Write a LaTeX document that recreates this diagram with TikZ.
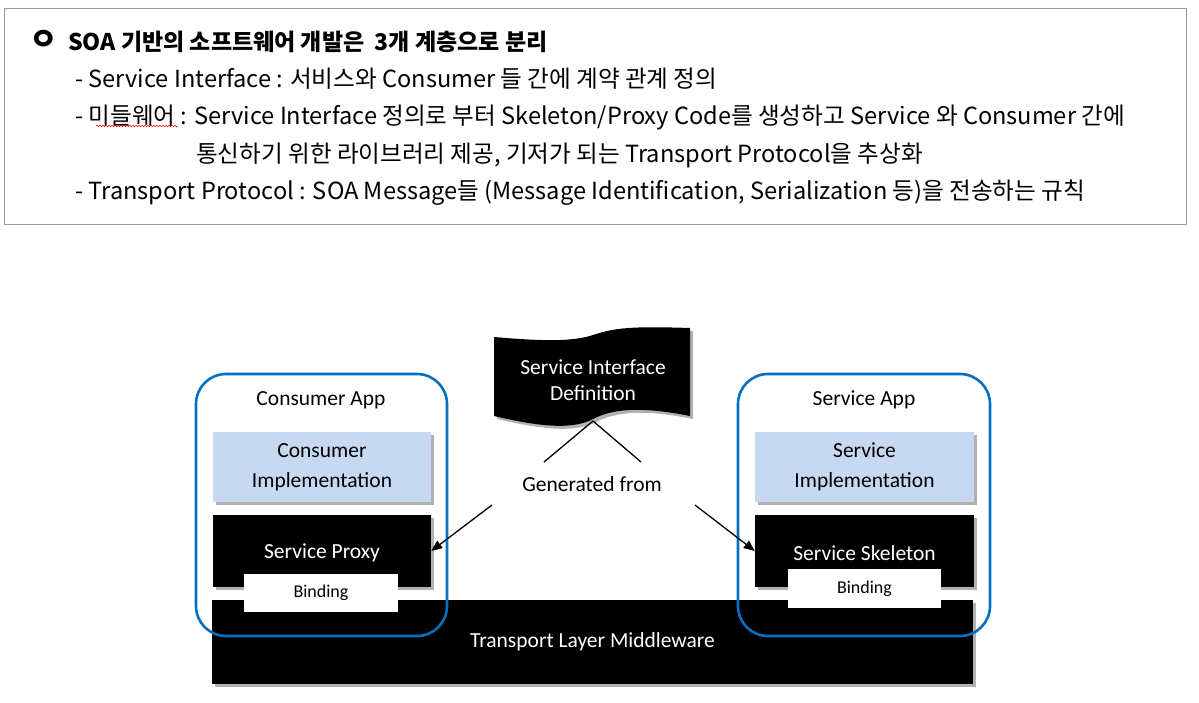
\documentclass[tikz,border=0pt]{standalone}
\usepackage{fontspec}
\setmainfont{Noto Sans CJK KR}
\newfontfamily\lab{Carlito}
\usetikzlibrary{shadows,arrows.meta,decorations.pathmorphing}
\definecolor{appblue}{HTML}{0070C0}
\definecolor{implblue}{HTML}{C6D9F1}
\begin{document}
\begin{tikzpicture}[x=1pt,y=-1pt,
  txt/.style={anchor=west, inner sep=0pt, font=\fontsize{23.6}{26}\selectfont},
  shad/.style={drop shadow={shadow xshift=3pt,shadow yshift=-3pt,fill=black,opacity=0.3}},
  blackbox/.style={fill=black, inner sep=0pt, shad},
  whitetext/.style={text=white, inner sep=0pt, align=center, font=\lab\fontsize{21.5}{26}\selectfont},
  implbox/.style={fill=implblue, text=black, inner sep=0pt, shad, align=center, font=\lab\fontsize{21.5}{30}\selectfont},
  bindbox/.style={fill=white, inner sep=0pt, font=\lab\fontsize{18}{20}\selectfont},
  appframe/.style={draw=appblue, line width=2.6pt, rounded corners=30pt, inner sep=0pt},
  applabel/.style={font=\lab\fontsize{21.5}{24}\selectfont, inner sep=0pt},
  arr/.style={-{Triangle[length=11pt,width=9pt]}, line width=1.3pt},
  conn/.style={line width=1.3pt}
]
\useasboundingbox (0,0) rectangle (1199,702);
\fill[white] (0,0) rectangle (1199,702);

% top text frame
\node[draw=black!40, line width=1.2pt, minimum width=1182pt, minimum height=216pt, anchor=north west, inner sep=0pt] (frame) at (4,8) {};
\node[inner sep=0pt, font=\bfseries\fontsize{31}{32}\selectfont] (bul) at (43.5,40) {ㅇ};
\node[txt, font=\bfseries\fontsize{23}{26}\selectfont] (l1) at (68,42) {SOA 기반의 소프트웨어 개발은~~3개 계층으로 분리};
\node[txt] (l2) at (75,79) {- Service Interface : 서비스와 Consumer 들 간에 계약 관계 정의};
\node[txt] (l3) at (75,117) {- 미들웨어 : Service Interface 정의로 부터 Skeleton/Proxy Code를 생성하고 Service 와 Consumer 간에};
\node[txt] (l4) at (196,155) {통신하기 위한 라이브러리 제공, 기저가 되는 Transport Protocol을 추상화};
\node[txt] (l5) at (75,193) {- Transport Protocol : SOA Message들 (Message Identification, Serialization 등)을 전송하는 규칙};
\coordinate (wv1) at (96,126);
\coordinate (wv2) at (178,126);
\draw[red, line width=0.5pt, decorate, decoration={snake, amplitude=0.8pt, segment length=3pt}] (wv1) -- (wv2);

% transport layer
\node[blackbox, minimum width=761pt, minimum height=84pt] (tl) at (592.5,642) {};
\node[whitetext] (tlt) at (592.5,642) {Transport Layer Middleware};

% consumer side
\node[implbox, minimum width=218pt, minimum height=70pt] (ci) at (322,467) {Consumer\\Implementation};
\node[blackbox, minimum width=218pt, minimum height=72pt] (sp) at (322,551) {};
\node[whitetext] (spt) at (322,553) {Service Proxy};
\node[bindbox, minimum width=154pt, minimum height=38pt] (bl) at (321,593) {Binding};

% service side
\node[implbox, minimum width=219pt, minimum height=70pt] (si) at (864.5,467) {Service\\Implementation};
\node[blackbox, minimum width=219pt, minimum height=72pt] (sk) at (864.5,551) {};
\node[whitetext] (skt) at (864.5,553) {Service Skeleton};
\node[bindbox, minimum width=153pt, minimum height=39pt] (br) at (864.5,588.5) {Binding};

% app frames
\node[appframe, minimum width=251pt, minimum height=262pt] (ca) at (321.5,505) {};
\node[appframe, minimum width=252pt, minimum height=262pt] (sa) at (864,505) {};
\node[applabel] (cal) at (321,400) {Consumer App};
\node[applabel] (sal) at (864,400) {Service App};

% service interface definition banner
\fill[black, shad] (494,337) .. controls (540,341) and (572,342) .. (593,335)
  .. controls (614,328) and (630,326) .. (690,328) -- (690,416)
  .. controls (640,406) and (612,409) .. (593,419)
  .. controls (574,429) and (545,428) .. (494,416) -- cycle;
\node[whitetext, font=\lab\fontsize{21.5}{26}\selectfont] (sid) at (593,380) {Service Interface\\Definition};
\coordinate (sidb) at (593,421);

% generated from
\node[applabel] (gen) at (592,484) {Generated from};
\coordinate (gl) at (544,462);
\coordinate (gr) at (641,462);
\draw[conn] (sidb) -- (gl);
\draw[conn] (sidb) -- (gr);
\coordinate (a1) at (492,505);
\coordinate (a2) at (695,505);
\draw[arr] (a1) -- (sp.east);
\draw[arr] (a2) -- (sk.west);
\end{tikzpicture}
\end{document}
